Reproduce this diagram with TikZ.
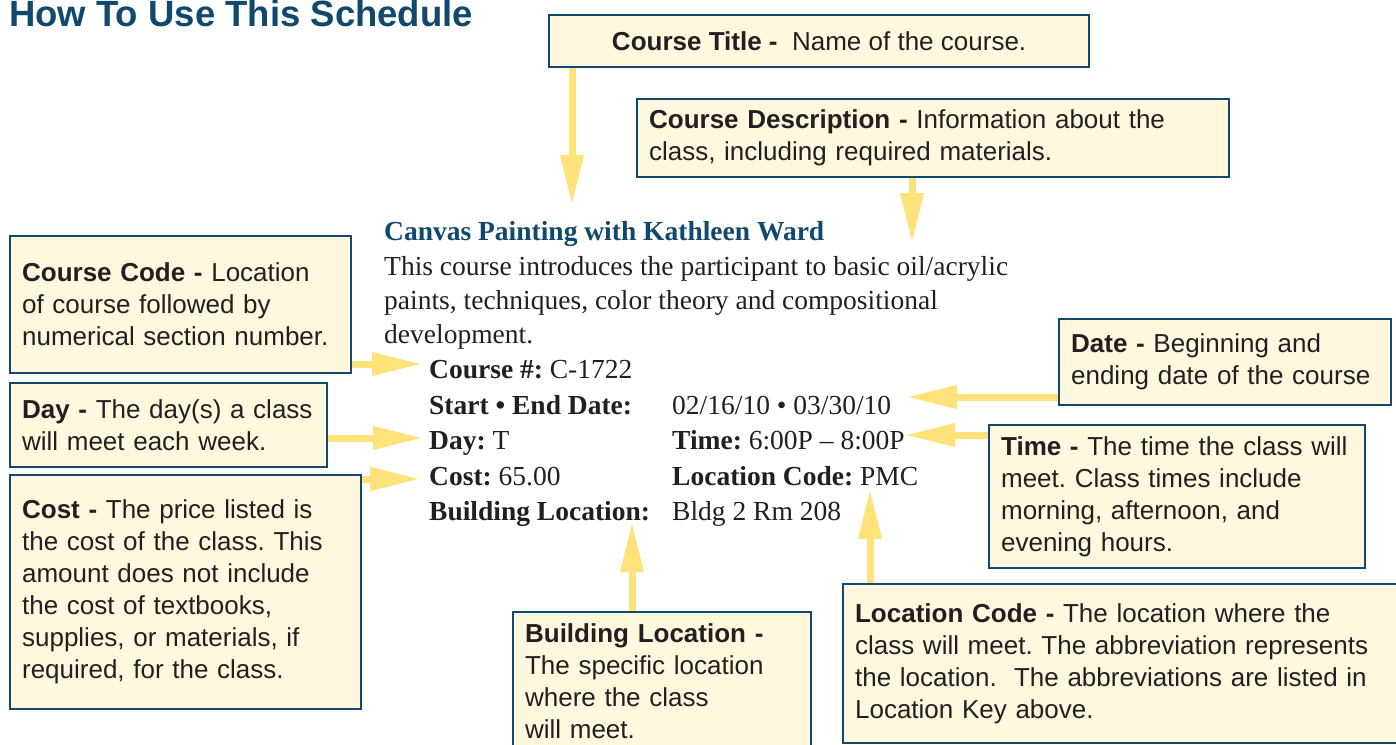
\documentclass[tikz,border=0pt]{standalone}
\usepackage{fontspec}
\setmainfont{Liberation Serif}
\setsansfont{Liberation Sans}
\usetikzlibrary{arrows.meta}
\usetikzlibrary{backgrounds}
\definecolor{headblue}{RGB}{16,72,110}
\definecolor{notefill}{RGB}{255,248,222}
\definecolor{callyellow}{RGB}{255,226,122}
\definecolor{ink}{RGB}{35,31,32}
\frenchspacing

\begin{document}
\begin{tikzpicture}[x=1pt, y=-1pt,
 note/.style={draw=headblue, fill=notefill, line width=2.2pt, anchor=north west, inner xsep=12pt, inner ysep=0pt, align=left, text=ink, font=\sffamily\fontsize{26}{32}\selectfont},
 entry/.style={anchor=base west, inner sep=2pt, text=ink, font=\fontsize{27.5}{34}\selectfont},
 callout/.style={callyellow, line width=7pt, -{Triangle[length=50pt, width=22pt]}}]
\useasboundingbox (0,0) rectangle (1396,744);
\clip (0,0) rectangle (1396,744);

\node[anchor=base west, inner sep=0pt, text=headblue, font=\sffamily\bfseries\fontsize{36.5}{40}\selectfont] (head) at (9,27) {How To Use This Schedule};

\node[note, align=center, minimum width=540pt, minimum height=52pt] (ttl) at (548,14) {\textbf{Course Title -}\ \ Name of the course.};
\node[note, text width=568pt, minimum height=78pt] (desc) at (636,98) {\textbf{Course Description -} Information about the\\class, including required materials.};
\node[note, text width=317pt, minimum height=137pt] (code) at (9,235) {\textbf{Course Code -} Location\\of course followed by\\numerical section number.};
\node[note, text width=293pt, minimum height=84pt] (day) at (9,382) {\textbf{Day -} The day(s) a class\\will meet each week.};
\node[note, text width=327pt, minimum height=234pt] (cost) at (9,474) {\textbf{Cost -} The price listed is\\the cost of the class. This\\amount does not include\\the cost of textbooks,\\supplies, or materials, if\\required, for the class.};
\node[note, text width=274pt, minimum height=139pt] (bldg) at (512,611) {\textbf{Building Location -}\\The specific location\\where the class\\will meet.};
\node[note, text width=546pt, minimum height=159pt] (loc) at (842,583) {\textbf{Location Code -} The location where the\\class will meet. The abbreviation represents\\the location.\ \ The abbreviations are listed in\\Location Key above.};
\node[note, text width=308pt, minimum height=86pt] (date) at (1058,318) {\textbf{Date -} Beginning and\\ending date of the course};
\node[note, text width=352pt, minimum height=143pt] (time) at (988,424) {\textbf{Time -} The time the class will\\meet. Class times include\\morning, afternoon, and\\evening hours.};

\node[entry, text=headblue] (ctitle) at (382,240) {\textbf{Canvas Painting with Kathleen Ward}};
\node[entry] (desc1) at (382,275) {This course introduces the participant to basic oil/acrylic};
\node[entry] (desc2) at (382,309) {paints, techniques, color theory and compositional};
\node[entry] (desc3) at (382,343) {development.};
\node[entry] (cnum) at (427,378) {\textbf{Course \#:} C-1722};
\node[entry] (sdate) at (427,414) {\textbf{Start • End Date:}};
\node[entry] (dates) at (670,414) {02/16/10 • 03/30/10};
\node[entry] (dayl) at (427,449) {\textbf{Day:} T};
\node[entry] (timel) at (670,449) {\textbf{Time:} 6:00P – 8:00P};
\node[entry] (costl) at (427,485) {\textbf{Cost:} 65.00};
\node[entry] (locl) at (670,485) {\textbf{Location Code:} PMC};
\node[entry] (bldgl) at (427,520) {\textbf{Building Location:}};
\node[entry] (bldgv) at (670,520) {Bldg 2 Rm 208};

\coordinate (ttltip) at (572,205);
\coordinate (desctip) at (912,243);
\coordinate (codetip) at (422,364);
\coordinate (daytip) at (423,438);
\coordinate (costtip) at (420,479);
\coordinate (datetip) at (907,397);
\coordinate (timetip) at (905,435);
\coordinate (bldgtip) at (632,522);
\coordinate (loctip) at (870,489);

\begin{scope}[on background layer]
\foreach \from/\tip in {ttl.south/ttltip, desc.south/desctip, bldg.north/bldgtip, loc.north/loctip}
 \draw[callout] (\from -| \tip) -- (\tip);
\foreach \from/\tip in {code.east/codetip, day.east/daytip, cost.east/costtip, date.west/datetip, time.west/timetip}
 \draw[callout] (\from |- \tip) -- (\tip);
\end{scope}
\end{tikzpicture}
\end{document}
